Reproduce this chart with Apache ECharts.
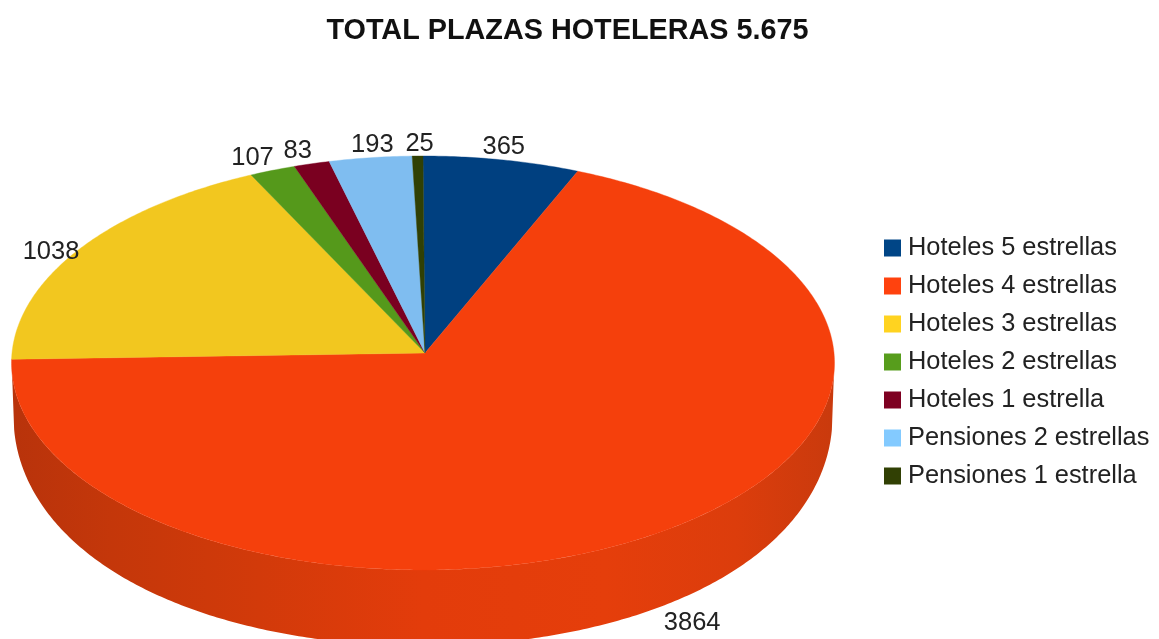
<!DOCTYPE html>
<html><head><meta charset="utf-8">
<style>html,body{margin:0;padding:0;background:#fff}#c{width:1159px;height:639px}</style>
<script src="https://cdn.jsdelivr.net/npm/echarts@6/dist/echarts.min.js"></script>
</head><body><div id="c"></div>
<script>
const categories = ['Hoteles 5 estrellas','Hoteles 4 estrellas','Hoteles 3 estrellas','Hoteles 2 estrellas','Hoteles 1 estrella','Pensiones 2 estrellas','Pensiones 1 estrella'];
const values = [365,3864,1038,107,83,193,25];
const legendColors = ['#004586','#ff420e','#ffd320','#579d1c','#7e0021','#83caff','#314004'];
const faceColors = ['#004080','#f5400c','#f2c71f','#55991b','#7a0020','#7fbdf0','#304004'];
const labelOffsets = [[2,-13],[28,92],[-29,3],[-20,-12],[-14,-13],[2,-13],[2,-12]];

// Projected-disc geometry of the chart area
const disc = {cx:425, cy:353, rimShift:-2, rx:411, ry:206.5, persp:-0.0483, depth:52, depthGrow:24, bottomScale:0.995};
const wallStops = [[0,'#b8330b'],[0.12,'#c4370a'],[0.3,'#d23a0a'],[0.5,'#e33c0b'],[0.72,'#e53e0b'],[0.88,'#dc3d0c'],[1,'#c93a0d']];

const total = values.reduce((a,b)=>a+b,0);
const angleOf = v => echarts.number.linearMap(v,[0,total],[0,Math.PI*2]);
function rim(a, bottom){
  const X=Math.sin(a), Y=-Math.cos(a), w=1+disc.persp*Y;
  const px=disc.cx+disc.rimShift+disc.rx*X/w, py=disc.cy+disc.ry*Y/w;
  if(!bottom) return [px,py];
  return [disc.cx+(px-disc.cx)*disc.bottomScale, py+disc.depth+disc.depthGrow*Math.sin(Math.max(Y,0)*Math.PI/2)];
}
function arc(a0,a1,bottom){
  const n=Math.max(2,Math.ceil((a1-a0)/0.01)), pts=[];
  for(let i=0;i<=n;i++) pts.push(rim(a0+(a1-a0)*i/n,bottom));
  return pts;
}
const font='25.5px "Liberation Sans", Arial, sans-serif';
const wallMin=Math.acos(-0.1), wallMax=Math.PI*2-Math.acos(-0.1);

const series = categories.map((name,i)=>({
  name, type:'custom', coordinateSystem:'none', silent:true, clip:false,
  itemStyle:{color:legendColors[i]},
  data:[[values[i]]],
  renderItem(params,api){
    const before=values.slice(0,i).reduce((a,b)=>a+b,0), v=api.value(0);
    const a0=angleOf(before), a1=angleOf(before+v), mid=(a0+a1)/2;
    const children=[];
    const w0=Math.max(a0,wallMin), w1=Math.min(a1,wallMax);
    if(w1>w0){
      children.push({type:'polygon',shape:{points:arc(w0,w1,false).concat(arc(w0,w1,true).reverse())},
        style:{fill:new echarts.graphic.LinearGradient(11,0,835,0,wallStops.map(s=>({offset:s[0],color:s[1]})),true)}});
    }
    children.push({type:'polygon',shape:{points:[[disc.cx,disc.cy]].concat(arc(a0,a1,false))},
      style:{fill:faceColors[i],stroke:faceColors[i],lineWidth:0.4}});
    const p=rim(mid,false);
    children.push({type:'text',z2:10,style:{text:String(v),x:p[0]+labelOffsets[i][0],y:p[1]+labelOffsets[i][1],
      fill:'#222',font,align:'center',verticalAlign:'middle'}});
    return {type:'group',children};
  }
}));

const chart=echarts.init(document.getElementById('c'),null,{renderer:'canvas'});
chart.setOption({
  animation:false, backgroundColor:'#fff',
  title:{text:'TOTAL PLAZAS HOTELERAS 5.675',left:562.5,top:12,textAlign:'center',
    textStyle:{fontFamily:'"Liberation Sans", Arial, sans-serif',fontWeight:'bold',fontSize:28.8,color:'#111'}},
  legend:{orient:'vertical',left:879,top:230,icon:'rect',itemWidth:17,itemHeight:17,itemGap:12,selectedMode:false,
    data:categories,
    textStyle:{fontFamily:'"Liberation Sans", Arial, sans-serif',fontSize:25.4,lineHeight:26,color:'#222',padding:[0,0,0,2]}},
  series
});
</script></body></html>
